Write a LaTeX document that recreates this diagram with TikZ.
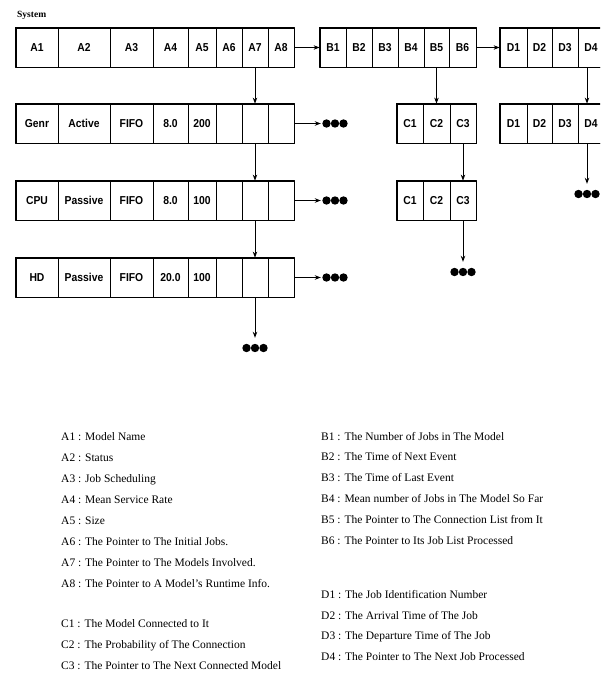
\documentclass[tikz,border=0pt]{standalone}
\usepackage{fontspec}
\setmainfont{Liberation Serif}
\newfontfamily\cellfont[FakeStretch=0.9]{Liberation Sans}
\usetikzlibrary{arrows.meta}

\tikzset{
  cell/.style={draw, line width=0.8pt, minimum height=39pt, inner sep=0pt,
    font=\cellfont\bfseries\fontsize{11.5}{13}\selectfont},
  rowframe/.style={line width=1.3pt},
  link/.style={->, line width=0.9pt},
  dots/.style={minimum width=28pt, minimum height=20pt, inner sep=0pt},
  legend/.style={anchor=base west, inner sep=0pt, font=\fontsize{11.5}{13}\selectfont},
}

\begin{document}
\begin{tikzpicture}[x=1pt, y=-1pt, >={Stealth[length=6pt,width=4.5pt]}, line join=round]
	\clip (0,0) rectangle (600,677);
	\node[anchor=west, inner sep=0pt, font=\bfseries\fontsize{9.5}{10}\selectfont] (title) at (17,15) {System};

	% model record and its lists
	\foreach \l/\r/\t [count=\i] in {16/58/A1, 58/110/A2, 110/153/A3, 153/188/A4, 188/216/A5, 216/242/A6, 242/268/A7, 268/294/A8}
		\node[cell, minimum width=\r-\l] (a\i) at ({(\l+\r)/2},47.5) {\t};
	\foreach \l/\r/\t [count=\i] in {16/58/Genr, 58/110/Active, 110/153/FIFO, 153/188/8.0, 188/216/200, 216/242/{}, 242/268/{}, 268/294/{}}
		\node[cell, minimum width=\r-\l] (g\i) at ({(\l+\r)/2},123.5) {\t};
	\foreach \l/\r/\t [count=\i] in {16/58/CPU, 58/110/Passive, 110/153/FIFO, 153/188/8.0, 188/216/100, 216/242/{}, 242/268/{}, 268/294/{}}
		\node[cell, minimum width=\r-\l] (u\i) at ({(\l+\r)/2},200.5) {\t};
	\foreach \l/\r/\t [count=\i] in {16/58/HD, 58/110/Passive, 110/153/FIFO, 153/188/20.0, 188/216/100, 216/242/{}, 242/268/{}, 268/294/{}}
		\node[cell, minimum width=\r-\l] (h\i) at ({(\l+\r)/2},277.5) {\t};

	% runtime info, connections, jobs
	\foreach \l/\r/\t [count=\i] in {320/346/B1, 346/372/B2, 372/398/B3, 398/424/B4, 424/449/B5, 449/476/B6}
		\node[cell, minimum width=\r-\l] (b\i) at ({(\l+\r)/2},47.5) {\t};
	\foreach \l/\r/\t [count=\i] in {397/423/C1, 423/450/C2, 450/476/C3}
		\node[cell, minimum width=\r-\l] (c\i) at ({(\l+\r)/2},123.5) {\t};
	\foreach \l/\r/\t [count=\i] in {397/423/C1, 423/450/C2, 450/476/C3}
		\node[cell, minimum width=\r-\l] (k\i) at ({(\l+\r)/2},200.5) {\t};
	\foreach \l/\r/\t [count=\i] in {500/527/D1, 527/552/D2, 552/578/D3, 578/604/D4}
		\node[cell, minimum width=\r-\l] (d\i) at ({(\l+\r)/2},47.5) {\t};
	\foreach \l/\r/\t [count=\i] in {500/527/D1, 527/552/D2, 552/578/D3, 578/604/D4}
		\node[cell, minimum width=\r-\l] (e\i) at ({(\l+\r)/2},123.5) {\t};

	\foreach \p/\q in {a1/a8, g1/g8, u1/u8, h1/h8, b1/b6, c1/c3, k1/k3, d1/d4, e1/e4}
		\draw[rowframe] (\p.north west) rectangle (\q.south east);

	% continuation marks
	\node[dots] (gd) at (335,123.5) {};
	\node[dots] (ud) at (335,200.5) {};
	\node[dots] (hd) at (335,277.5) {};
	\node[dots] (hn) at (h7 |- 0,348) {};
	\node[dots] (kn) at (k3 |- 0,272) {};
	\node[dots] (en) at (587,194) {};
	\foreach \n in {gd, ud, hd, hn, kn, en}
		\foreach \k in {-8.5, 0, 8.5}
			\fill ([xshift=\k pt]\n.center) circle (4.2pt);

	\draw[link] (a8) -- (b1);
	\draw[link] (b6) -- (d1);
	\draw[link] (a7) -- (g7);
	\draw[link] (g7) -- (u7);
	\draw[link] (u7) -- (h7);
	\draw[link] (h7) -- (hn);
	\draw[link] (g8) -- (gd);
	\draw[link] (u8) -- (ud);
	\draw[link] (h8) -- (hd);
	\draw[link] (b5) -- (c2);
	\draw[link] (c3) -- (k3);
	\draw[link] (k3) -- (kn);
	\draw[link] (d4.south -| en) -- (e4.north -| en);
	\draw[link] (e4.south -| en) -- (en);

	% legend
	\foreach \t [count=\i] in {A1 : Model Name, A2 : Status, A3 : Job Scheduling, A4 : Mean Service Rate, A5 : Size, A6 : The Pointer to The Initial Jobs., A7 : The Pointer to The Models Involved., A8 : The Pointer to A Model's Runtime Info.}
		\node[legend] (la\i) at (61,{440.5+21*(\i-1)}) {\t};
	\foreach \t [count=\i] in {C1 : The Model Connected to It, C2 : The Probability of The Connection, C3 : The Pointer to The Next Connected Model}
		\node[legend] (lc\i) at (61,{627.5+21*(\i-1)}) {\t};
	\foreach \t [count=\i] in {B1 : The Number of Jobs in The Model, B2 : The Time of Next Event, B3 : The Time of Last Event, B4 : Mean number of Jobs in The Model So Far, B5 : The Pointer to The Connection List from It, B6 : The Pointer to Its Job List Processed}
		\node[legend] (lb\i) at (321,{440+20.8*(\i-1)}) {\t};
	\foreach \t [count=\i] in {D1 : The Job Identification Number, D2 : The Arrival Time of The Job, D3 : The Departure Time of The Job, D4 : The Pointer to The Next Job Processed}
		\node[legend] (ld\i) at (321,{598.5+20.7*(\i-1)}) {\t};
\end{tikzpicture}
\end{document}
